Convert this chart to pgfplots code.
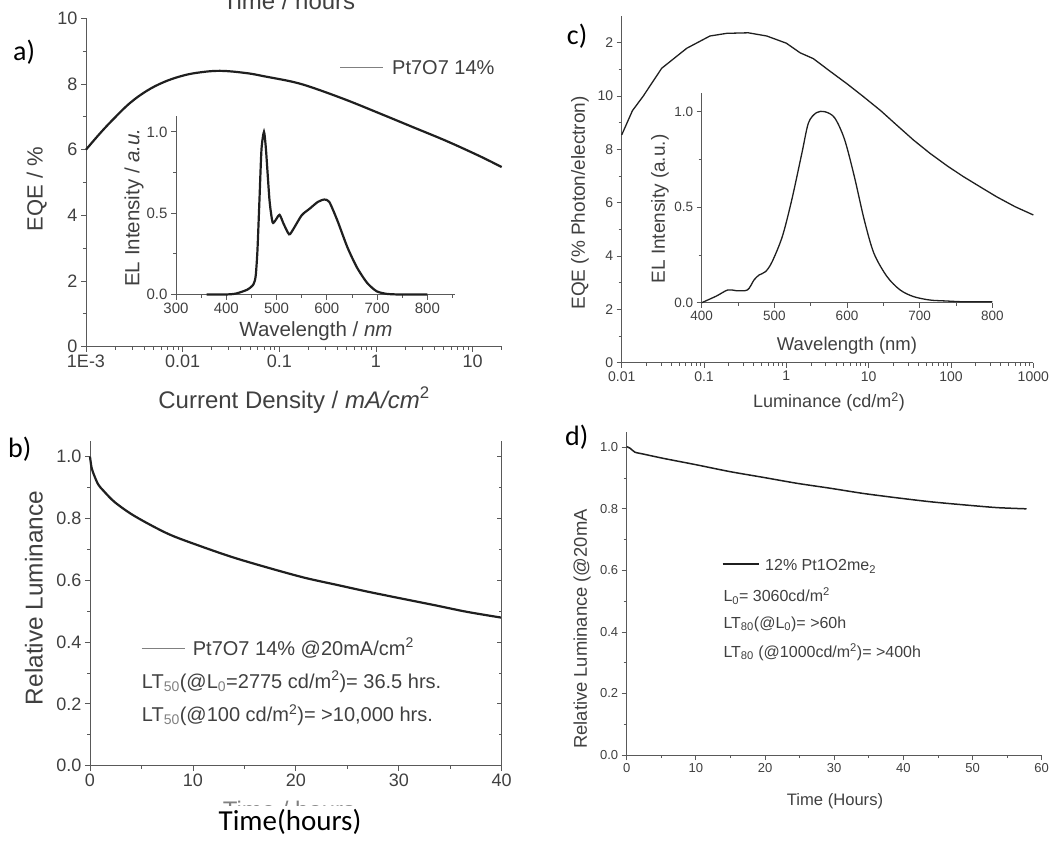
\documentclass[border=0pt]{standalone}
\usepackage{fontspec}
\setmainfont{Liberation Sans}
\newfontfamily\calibri{Carlito}
\usepackage{pgfplots}
\pgfplotsset{compat=1.18}

\definecolor{axc}{gray}{0.35}
\definecolor{txc}{gray}{0.25}
\definecolor{cc}{gray}{0.12}
\newcommand{\fs}[1]{\fontsize{#1}{#1}\selectfont}

\pgfplotsset{
  base/.style={scale only axis, enlargelimits=false, clip=false,
    axis x line*=bottom, axis y line*=left,
    axis line style={axc, line width=0.9pt, -},
    tick align=outside, every tick/.style={axc, line width=0.8pt},
    major tick length=5pt, minor tick length=3pt,
    /pgf/number format/assume math mode=true,
    tick label style={text=txc}},
  onedec/.style={yticklabel style={/pgf/number format/.cd, fixed, fixed zerofill, precision=1}},
}

\begin{document}
\begin{tikzpicture}
\useasboundingbox (0,0) rectangle (1062pt,-842pt);

% ---------------- panel a ----------------
\begin{axis}[base, at={(86pt,-346.7pt)}, anchor=south west, width=415.7pt, height=328.4pt,
  xmode=log, xmin=1e-3, xmax=20, ymin=0, ymax=10,
  xtick={0.001,0.01,0.1,1,10}, xticklabels={1E-3,0.01,0.1,1,10},
  minor xtick={0.002,0.003,0.004,0.005,0.006,0.007,0.008,0.009,0.02,0.03,0.04,0.05,0.06,0.07,0.08,0.09,0.2,0.3,0.4,0.5,0.6,0.7,0.8,0.9,2,3,4,5,6,7,8,9,20},
  ytick={0,2,4,6,8,10}, minor ytick={1,3,5,7,9},
  tick label style={font=\fs{18}}]
\addplot[cc, line width=2.2pt, smooth, tension=0.6] coordinates {
(0.001,6.0) (0.0014,6.50) (0.00192,6.93) (0.00285,7.42) (0.00425,7.79) (0.0063,8.05)
(0.0094,8.23) (0.014,8.34) (0.0243,8.40) (0.046,8.33) (0.074,8.22) (0.14,8.06) (0.225,7.88)
(0.498,7.51) (1.10,7.10) (2.44,6.68) (5.4,6.26) (11.9,5.80) (20,5.47)};
\end{axis}

% inset a
\begin{axis}[base, at={(176pt,-294.5pt)}, anchor=south west, width=279pt, height=178.9pt,
  xmin=300, xmax=855, ymin=0, ymax=1.1,
  xtick={300,400,500,600,700,800}, minor xtick={350,450,550,650,750,850},
  ytick={0,0.5,1}, minor ytick={0.25,0.75}, onedec,
  tick label style={font=\fs{15}}]
\addplot[cc, line width=2.2pt, smooth, tension=0.4] coordinates {
(361,0) (400,0.0) (419.5,0.006) (442,0.03) (454,0.062) (458.5,0.114) (462,0.27) (466,0.58)
(470,0.89) (475,1.0) (479,0.89) (486,0.58) (492,0.445) (497.6,0.455) (506,0.49) (514,0.435)
(525,0.37) (533,0.40) (550,0.487) (566,0.528) (582,0.569) (595,0.584) (605,0.569) (621,0.455)
(641,0.29) (660,0.166) (680,0.072) (699,0.02) (719,0.004) (745,0.0) (800,0.0)};
\end{axis}

% ---------------- panel c ----------------
\begin{axis}[base, at={(621.7pt,-362.7pt)}, anchor=south west, width=411.6pt, height=346.7pt,
  xmode=log, xmin=0.01, xmax=1000, ymin=0, ymax=13,
  xtick={0.01,0.1,1,10,100,1000}, xticklabels={0.01,0.1,1,10,100,1000},
  minor xtick={0.02,0.03,0.04,0.05,0.06,0.07,0.08,0.09,0.2,0.3,0.4,0.5,0.6,0.7,0.8,0.9,2,3,4,5,6,7,8,9,20,30,40,50,60,70,80,90,200,300,400,500,600,700,800,900},
  ytick={0,2,4,6,8,10,12}, yticklabels={0,2,4,6,8,10,\phantom{1}2}, minor ytick={1,3,5,7,9,11},
  tick label style={font=\fs{14}}]
\addplot[cc, line width=1.3pt] coordinates {
(0.01,8.54) (0.0135,9.45) (0.0183,10.0) (0.0306,11.04) (0.0617,11.79) (0.118,12.25)
(0.189,12.35) (0.345,12.37) (0.578,12.25) (1.0,11.98) (1.47,11.62) (2.13,11.40) (3.39,10.93)
(5.5,10.45) (8.6,9.98) (14,9.45) (21.9,8.91) (35,8.35) (55.6,7.85) (90,7.38) (141,6.98)
(230,6.58) (359,6.22) (600,5.85) (1000,5.54)};
\end{axis}

% inset c
\begin{axis}[base, at={(701.7pt,-302.7pt)}, anchor=south west, width=290.6pt, height=210.1pt,
  xmin=400, xmax=800, ymin=0, ymax=1.1,
  xtick={400,500,600,700,800}, minor xtick={450,550,650,750},
  ytick={0,0.5,1}, minor ytick={0.25,0.75}, onedec,
  tick label style={font=\fs{13.5}}]
\addplot[cc, line width=1.3pt, smooth, tension=0.5] coordinates {
(400,0) (420.3,0.035) (436,0.067) (447.5,0.063) (463,0.067) (472,0.119) (479,0.145) (488,0.163)
(497,0.215) (511,0.347) (524,0.539) (538,0.785) (547,0.942) (558,0.995) (569.5,1.0) (583,0.968)
(596.6,0.855) (610,0.662) (623.7,0.434) (637,0.259) (655,0.137) (673,0.067) (691.5,0.032)
(714,0.014) (736.7,0.009) (759,0.005) (782,0.005) (800,0.005)};
\end{axis}

% ---------------- panel b ----------------
\begin{axis}[base, at={(90pt,-765.7pt)}, anchor=south west, width=411.7pt, height=324.5pt,
  xmin=0, xmax=40, ymin=0, ymax=1.05,
  xtick={0,10,20,30,40}, minor xtick={5,15,25,35},
  ytick={0,0.2,0.4,0.6,0.8,1.0}, minor ytick={0.1,0.3,0.5,0.7,0.9}, onedec,
  tick label style={font=\fs{18}}]
\addplot[cc, line width=2.2pt, smooth, tension=0.5] coordinates {
(0,1.0) (0.15,0.965) (0.4,0.94) (0.8,0.91) (1.3,0.89) (2.43,0.852) (4.37,0.807) (7.6,0.750)
(10.85,0.709) (14.1,0.672) (18,0.634) (21,0.607) (24,0.585) (27,0.563) (30.1,0.542)
(33.4,0.520) (36.6,0.498) (40,0.479)};
\end{axis}
\begin{axis}[base, at={(90pt,-765.7pt)}, anchor=south west, width=411.7pt, height=324.5pt,
  xmin=0, xmax=40, ymin=0, ymax=1.05, axis x line=none, axis y line*=right,
  tick align=inside, ytick={0,0.2,0.4,0.6,0.8,1.0}, minor ytick={0.1,0.3,0.5,0.7,0.9},
  yticklabels={}]
\end{axis}

% ---------------- panel d ----------------
\begin{axis}[base, at={(626.7pt,-755pt)}, anchor=south west, width=415pt, height=323.1pt,
  xmin=0, xmax=60, ymin=0, ymax=1.05,
  xtick={0,10,20,30,40,50,60}, minor xtick={5,15,25,35,45,55},
  ytick={0,0.2,0.4,0.6,0.8,1.0}, minor ytick={0.1,0.3,0.5,0.7,0.9}, onedec,
  tick label style={font=\fs{13}}]
\addplot[cc, line width=1.5pt, smooth, tension=0.4] coordinates {
(0,1.002) (0.48,0.997) (1.2,0.984) (2.4,0.978) (5.3,0.964) (10.1,0.943) (14.9,0.921)
(19.8,0.902) (24.6,0.883) (29.4,0.867) (34.2,0.850) (39.0,0.836) (43.9,0.823) (48.7,0.813)
(53.5,0.804) (57.8,0.800)};
\end{axis}

% ---------------- texts ----------------
\begin{scope}[every node/.style={inner sep=0pt, text=txc}]
% panel a
\node[anchor=base, font=\fs{24}] at (289pt,-10pt) {Time / hours};
\node[rotate=90, font=\fs{22}] at (36.7pt,-189pt) {EQE / \%};
\node[anchor=base, font=\fs{24}] at (294pt,-408pt) {Current Density / \textit{mA/cm}\textsuperscript{2}};
\draw[gray, line width=0.8pt] (340pt,-67pt) -- (383pt,-67pt);
\node[anchor=base west, font=\fs{20}] at (392pt,-75pt) {Pt7O7 14\%};
\node[rotate=90, font=\fs{20.5}] at (134pt,-207.5pt) {EL Intensity / \textit{a.u.}};
\node[anchor=base, font=\fs{20.5}] at (316pt,-336.7pt) {Wavelength / \textit{nm}};
% panel c
\node[rotate=90, font=\fs{19}] at (580pt,-203pt) {EQE (\% Photon/electron)};
\node[anchor=base, font=\fs{18}] at (829pt,-407.3pt) {Luminance (cd/m\textsuperscript{2})};
\node[rotate=90, font=\fs{19}] at (660pt,-209pt) {EL Intensity (a.u.)};
\node[anchor=base, font=\fs{18.5}] at (847pt,-350pt) {Wavelength (nm)};
% panel b
\node[rotate=90, font=\fs{24.4}] at (34pt,-598pt) {Relative Luminance};
\draw[gray, line width=0.8pt] (141.7pt,-648.3pt) -- (185pt,-648.3pt);
\node[anchor=base west, font=\fs{20}] at (192.7pt,-655pt) {Pt7O7 14\% @20mA/cm\textsuperscript{2}};
\node[anchor=base west, font=\fs{20}] at (141.7pt,-688.3pt) {LT\textsubscript{\textcolor{gray}{50}}(@L\textsubscript{\textcolor{gray}{0}}=2775 cd/m\textsuperscript{2})= 36.5 hrs.};
\node[anchor=base west, font=\fs{20}] at (141.7pt,-721.7pt) {LT\textsubscript{\textcolor{gray}{50}}(@100 cd/m\textsuperscript{2})= >10,000 hrs.};
\node[anchor=base, font=\fs{24}, text=gray] at (289pt,-818pt) {Time / hours};
% panel d
\node[rotate=90, font=\fs{18.4}] at (582pt,-629pt) {Relative Luminance (@20mA};
\node[anchor=base, font=\fs{16.6}] at (835pt,-805pt) {Time (Hours)};
\draw[cc, line width=1.5pt] (722.7pt,-564pt) -- (759.3pt,-564pt);
\node[anchor=base west, font=\fs{16}] at (765pt,-570.7pt) {12\% Pt1O2me\textsubscript{2}};
\node[anchor=base west, font=\fs{16}] at (723.3pt,-601.7pt) {L\textsubscript{0}= 3060cd/m\textsuperscript{2}};
\node[anchor=base west, font=\fs{16}] at (723.3pt,-628.3pt) {LT\textsubscript{80}(@L\textsubscript{0})= >60h};
\node[anchor=base west, font=\fs{16}] at (723.3pt,-657.3pt) {LT\textsubscript{80} (@1000cd/m\textsuperscript{2})= >400h};
\end{scope}

\fill[white] (190pt,-806pt) rectangle (392pt,-842pt);
\begin{scope}[every node/.style={inner sep=0pt, text=black}]
\node[anchor=base, font=\calibri\fs{29}] at (290pt,-830pt) {Time(hours)};
\node[anchor=base west, font=\calibri\fs{28}] at (13pt,-61pt) {a)};
\node[anchor=base west, font=\calibri\fs{28}] at (8pt,-457pt) {b)};
\node[anchor=base west, font=\calibri\fs{28}] at (566.7pt,-44.5pt) {c)};
\node[anchor=base west, font=\calibri\fs{28}] at (565pt,-445pt) {d)};
\end{scope}
\end{tikzpicture}
\end{document}
